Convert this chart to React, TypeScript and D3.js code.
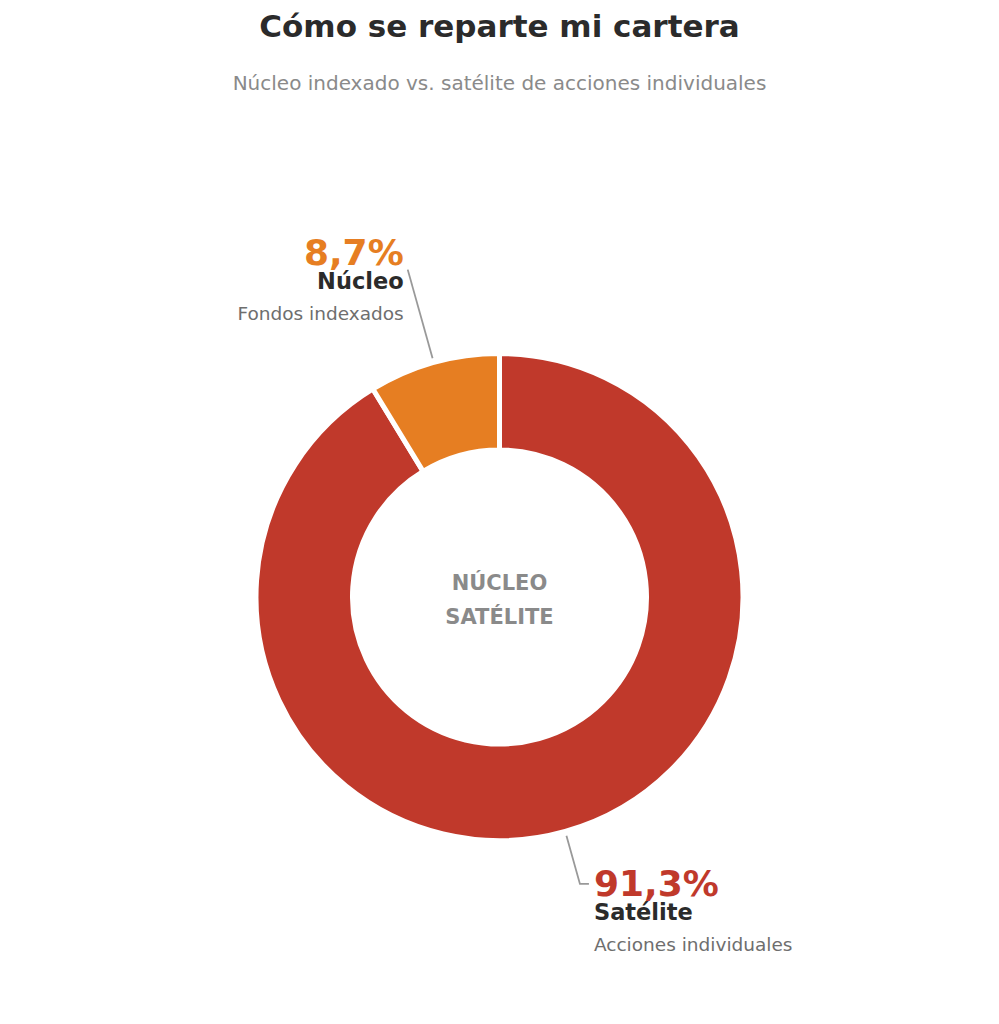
import { useEffect, useRef } from 'react';
import * as d3 from 'd3';

interface Slice {
  key: string;
  value: number;
  pctLabel: string;
  title: string;
  subtitle: string;
  color: string;
}

const labels = ['Satélite', 'Núcleo'];
const values = [91.3, 8.7];
const pctLabels = ['91,3%', '8,7%'];
const subtitles = ['Acciones individuales', 'Fondos indexados'];
const colors = ['#c0392b', '#e67e22'];
const centerLines = ['NÚCLEO', 'SATÉLITE'];

const TITLE = 'Cómo se reparte mi cartera';
const SUBTITLE = 'Núcleo indexado vs. satélite de acciones individuales';

export default function App() {
  const svgRef = useRef<SVGSVGElement>(null);

  useEffect(() => {
    if (!svgRef.current) return;
    const width = 999;
    const height = 1024;
    const cx = 499.5;
    const cy = 597;
    const outerR = 243.5;
    const innerR = 147;
    const font = '"DejaVu Sans", sans-serif';

    const data: Slice[] = labels.map((l, i) => ({
      key: l,
      value: values[i],
      pctLabel: pctLabels[i],
      title: l,
      subtitle: subtitles[i],
      color: colors[i],
    }));

    d3.select(svgRef.current).selectAll('*').remove();
    const svg = d3.select(svgRef.current)
      .attr('width', width)
      .attr('height', height)
      .style('font-family', font);

    svg.append('rect').attr('width', width).attr('height', height).attr('fill', '#fff');

    // 标题
    svg.append('text')
      .attr('x', width / 2)
      .attr('y', 37)
      .attr('text-anchor', 'middle')
      .attr('font-size', 31)
      .attr('font-weight', 'bold')
      .attr('fill', '#2b2b2b')
      .text(TITLE);

    svg.append('text')
      .attr('x', width / 2)
      .attr('y', 90)
      .attr('text-anchor', 'middle')
      .attr('font-size', 20)
      .attr('fill', '#8a8a8a')
      .text(SUBTITLE);

    const g = svg.append('g').attr('transform', `translate(${cx},${cy})`);

    const pie = d3.pie<Slice>().sort(null).value(d => d.value);
    const arcs = pie(data);

    const arc = d3.arc<d3.PieArcDatum<Slice>>()
      .innerRadius(innerR)
      .outerRadius(outerR);

    g.selectAll('.slice')
      .data(arcs)
      .enter()
      .append('path')
      .attr('class', 'slice')
      .attr('d', arc)
      .attr('fill', d => d.data.color)
      .attr('stroke', '#fff')
      .attr('stroke-width', 5)
      .attr('stroke-linejoin', 'miter');

    // 中心文字
    g.selectAll('.center-text')
      .data(centerLines)
      .enter()
      .append('text')
      .attr('class', 'center-text')
      .attr('x', 0)
      .attr('y', (_, i) => -7 + i * 34)
      .attr('text-anchor', 'middle')
      .attr('font-size', 21)
      .attr('font-weight', 'bold')
      .attr('fill', '#8a8a8a')
      .text(d => d);

    // 引线与标签
    const polar = (angle: number, r: number): [number, number] =>
      [Math.sin(angle) * r, -Math.cos(angle) * r];

    arcs.forEach(a => {
      const mid = (a.startAngle + a.endAngle) / 2;
      const right = Math.sin(mid) > 0;
      const p0 = polar(mid, 248);
      const p1 = polar(mid, right ? 298 : 340);
      const pts: [number, number][] = [p0, p1];
      let tx: number;
      let ty: number;
      if (right) {
        pts.push([p1[0] + 9, p1[1]]);
        tx = p1[0] + 14;
        ty = p1[1] + 12;
      } else {
        tx = p1[0] - 4;
        ty = p1[1] - 5;
      }

      g.append('path')
        .attr('d', d3.line()(pts))
        .attr('fill', 'none')
        .attr('stroke', '#999')
        .attr('stroke-width', 1.8);

      const anchor = right ? 'start' : 'end';
      g.append('text')
        .attr('x', tx)
        .attr('y', ty)
        .attr('text-anchor', anchor)
        .attr('font-size', 36)
        .attr('font-weight', 'bold')
        .attr('fill', a.data.color)
        .text(a.data.pctLabel);

      g.append('text')
        .attr('x', tx)
        .attr('y', ty + 24)
        .attr('text-anchor', anchor)
        .attr('font-size', 22.5)
        .attr('font-weight', 'bold')
        .attr('fill', '#2b2b2b')
        .text(a.data.title);

      g.append('text')
        .attr('x', tx)
        .attr('y', ty + 55)
        .attr('text-anchor', anchor)
        .attr('font-size', 18.5)
        .attr('fill', '#6e6e6e')
        .text(a.data.subtitle);
    });
  }, []);

  return (
    <div style={{ position: 'absolute', left: 0, top: 0 }}>
      <svg ref={svgRef} style={{ display: 'block' }} />
    </div>
  );
}
